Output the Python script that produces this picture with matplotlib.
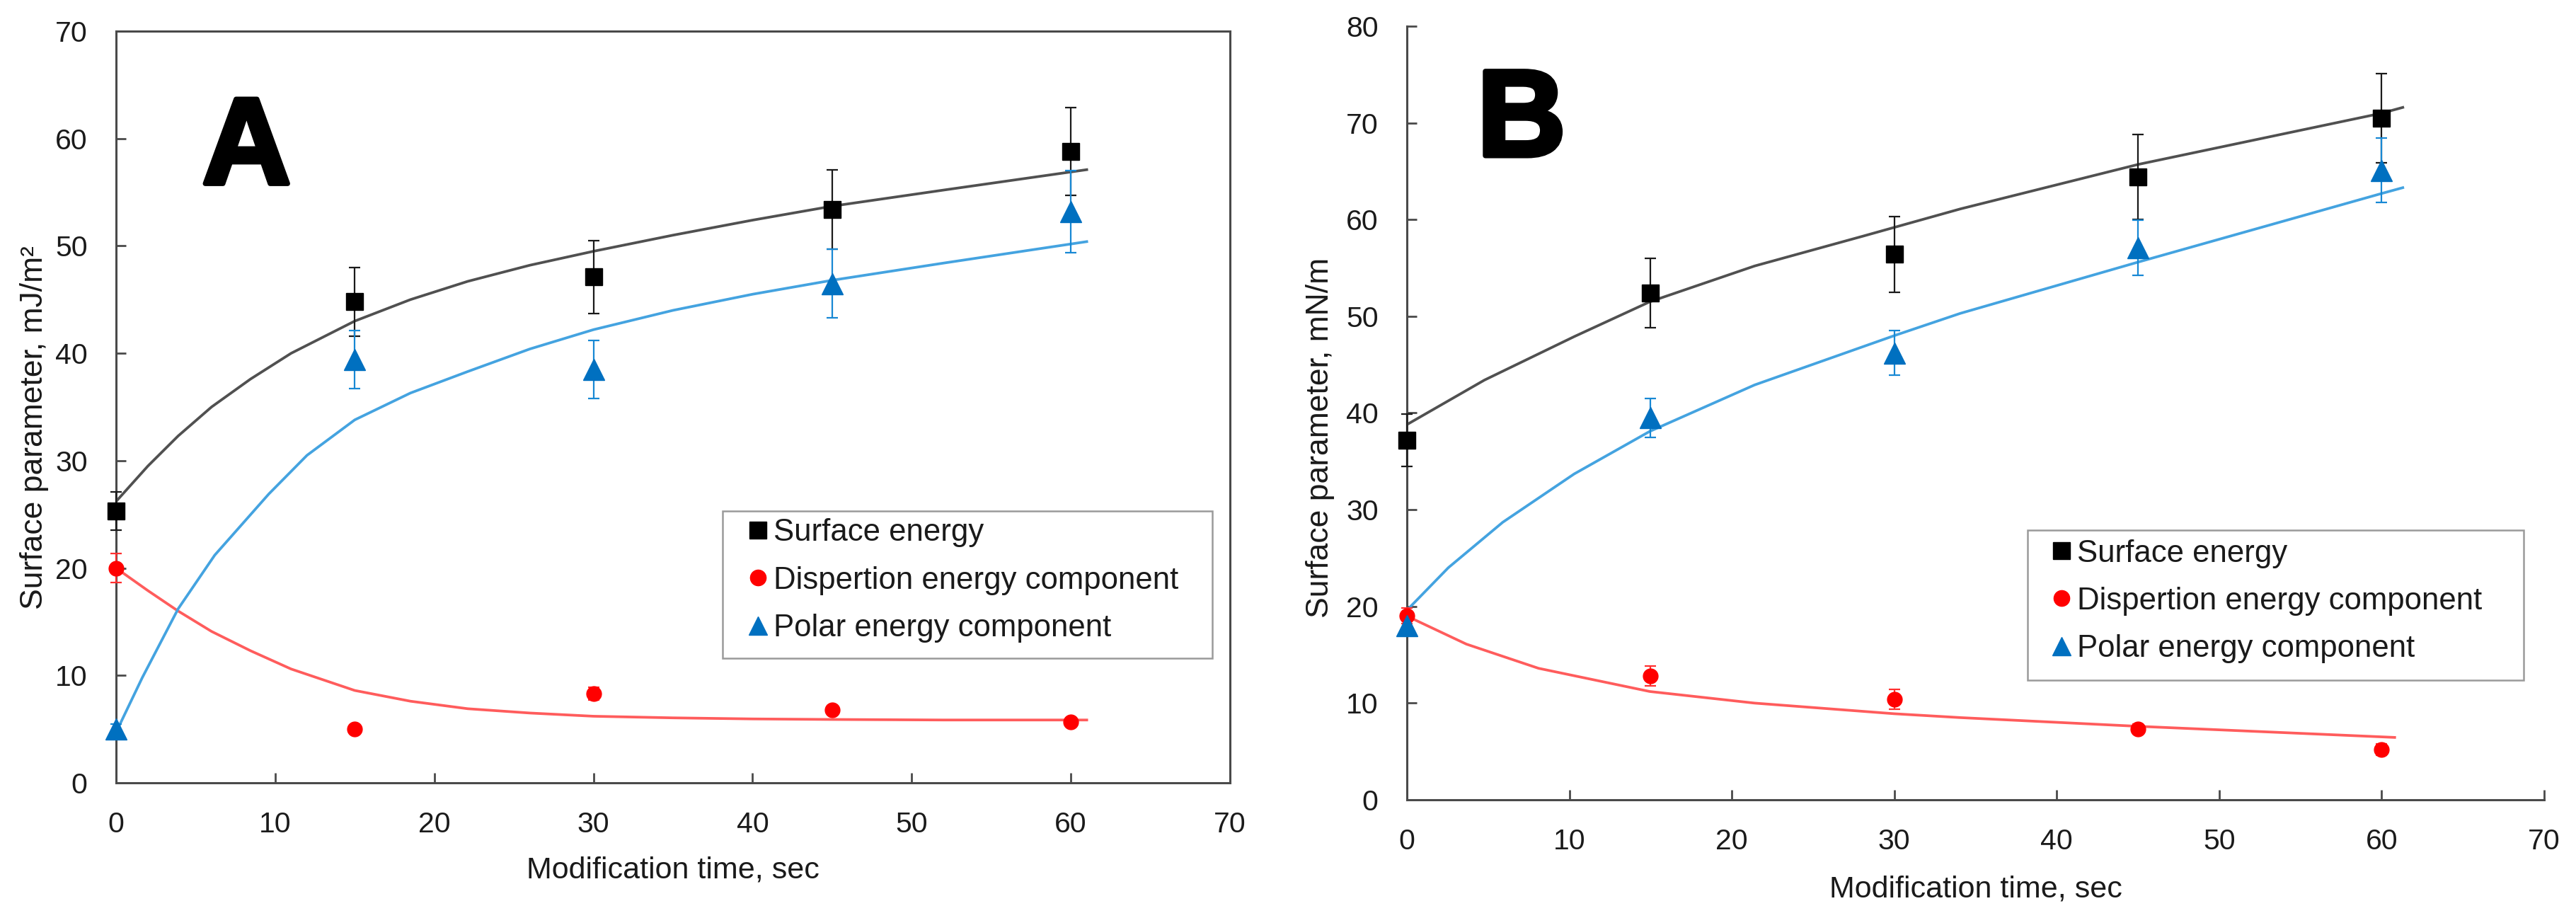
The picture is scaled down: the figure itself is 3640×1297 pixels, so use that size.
import matplotlib
matplotlib.use("Agg")
import matplotlib.pyplot as plt
import matplotlib.patheffects as pe
from matplotlib.lines import Line2D
from matplotlib.patches import Rectangle

plt.rcParams['font.family'] = ['Liberation Sans', 'DejaVu Sans']

time = [0, 15, 30, 45, 60]
labels = ["Surface energy", "Dispertion energy component", "Polar energy component"]

# panel A, mJ/m2
a_surface = [25.3, 44.8, 47.1, 53.4, 58.8]
a_surface_err = [1.8, 3.2, 3.4, 3.7, 4.1]
a_disp = [20.0, 5.0, 8.3, 6.8, 5.7]
a_disp_err = [1.35, 0.3, 0.6, 0.4, 0.3]
a_polar = [5.0, 39.4, 38.5, 46.5, 53.2]
a_polar_err = [0.5, 2.7, 2.7, 3.2, 3.8]

# panel B, mN/m
b_surface = [37.2, 52.4, 56.4, 64.4, 70.5]
b_surface_err = [2.7, 3.6, 3.9, 4.4, 4.6]
b_disp = [19.0, 12.8, 10.4, 7.3, 5.2]
b_disp_err = [0.8, 1.0, 1.0, 0.5, 0.6]
b_polar = [18.0, 39.5, 46.2, 57.1, 65.1]
b_polar_err = [0.5, 2.0, 2.3, 2.85, 3.3]

# trend lines
a_fit_x = [0, 2, 3.9, 6, 8.45, 11, 15, 18.5, 22.1, 26, 30, 35, 40, 45, 52, 61]
a_fit_surface = [26.2, 29.5, 32.3, 35.0, 37.6, 40.0, 43.0, 45.0, 46.7, 48.2, 49.5, 51.0, 52.4, 53.7, 55.2, 57.1]
a_fit_disp = [20.0, 17.9, 16.0, 14.1, 12.3, 10.6, 8.6, 7.6, 6.9, 6.5, 6.2, 6.05, 5.95, 5.9, 5.85, 5.85]
a_fit_polar_x = [0, 1.65, 3.9, 6.2, 9.6, 12, 15, 18.5, 22.1, 26, 30, 35, 40, 45, 52, 61]
a_fit_polar = [4.7, 9.8, 16.2, 21.2, 26.9, 30.5, 33.8, 36.3, 38.3, 40.4, 42.2, 44.0, 45.5, 46.8, 48.4, 50.4]

b_fit_surface_x = [0, 4.77, 10.3, 14.95, 21.4, 28.1, 34.06, 45, 60, 61.3]
b_fit_surface = [38.8, 43.4, 47.9, 51.5, 55.2, 58.3, 61.1, 65.7, 71.0, 71.6]
b_fit_polar_x = [0, 2.55, 5.9, 10.3, 14.95, 21.4, 30, 34.06, 45, 60, 61.3]
b_fit_polar = [19.6, 24.0, 28.7, 33.7, 38.1, 42.9, 48.0, 50.3, 55.6, 62.7, 63.3]
b_fit_disp_x = [0, 3.66, 8.1, 14.95, 21.4, 30, 34.06, 45, 60.8]
b_fit_disp = [19.0, 16.1, 13.6, 11.2, 10.0, 8.9, 8.5, 7.6, 6.45]

SPINE = '#4a4a4a'
TXT = '#1a1a1a'


def errs(ax, y, e, col):
    c = ax.errorbar(time, y, yerr=e, fmt='none', ecolor=col, elinewidth=1.6,
                    capsize=6, capthick=1.6, zorder=3)
    for a in list(c.lines[1]) + list(c.lines[2]):
        a.set_clip_on(False)


def panel(ax, ymax, surf, surf_e, disp, disp_e, polar, polar_e, fits, ylabel,
          letter, letter_xy, frame, anchor, box=True):
    for fx, fy, col in fits:
        ax.plot(fx, fy, color=col, lw=2.7, zorder=2, solid_joinstyle='round')

    errs(ax, surf, surf_e, '#1a1a1a')
    errs(ax, disp, disp_e, '#ff3030')
    errs(ax, polar, polar_e, '#1788d4')
    ax.plot(time, surf, ls='none', marker='s', ms=17, color='black', clip_on=False, zorder=4)
    ax.plot(time, disp, ls='none', marker='o', ms=15, color='#ff0000', clip_on=False, zorder=4)
    ax.plot(time, polar, ls='none', marker='^', ms=21, color='#0070c0', clip_on=False, zorder=4)

    ax.set_xlim(0, 70)
    ax.set_ylim(0, ymax)
    ax.set_xticks(range(0, 71, 10))
    ax.set_yticks(range(0, ymax + 1, 10))
    ax.tick_params(direction='in', length=10, width=2, colors=SPINE, labelcolor=TXT,
                   labelsize=29.5, pad=29)
    for s in ax.spines.values():
        s.set_color(SPINE)
        s.set_linewidth(2.2)
    if not box:
        ax.spines['top'].set_visible(False)
        ax.spines['right'].set_visible(False)

    ax.set_xlabel('Modification time, sec', fontsize=31, color=TXT)
    ax.xaxis.set_label_coords(0.5, -0.097)
    ax.set_ylabel(ylabel, fontsize=32, color=TXT)

    ax.text(letter_xy[0], letter_xy[1], letter, fontsize=125, fontweight='bold',
            ha='center', va='baseline', color='black',
            path_effects=[pe.withStroke(linewidth=5, foreground='black')])

    handles = [Line2D([], [], ls='none', marker='s', ms=17, color='black'),
               Line2D([], [], ls='none', marker='o', ms=16, color='#ff0000'),
               Line2D([], [], ls='none', marker='^', ms=19, color='#0070c0')]
    leg = ax.legend(handles, labels, loc='upper left', bbox_to_anchor=anchor,
                    bbox_transform=ax.transAxes, frameon=False, borderpad=0,
                    borderaxespad=0, handlelength=0.6, handletextpad=0.2,
                    labelspacing=0.6, fontsize=31.5)
    for t in leg.get_texts():
        t.set_color(TXT)
    x0, y0, x1, y1 = frame
    ax.add_patch(Rectangle((x0, y0), x1 - x0, y1 - y0, transform=ax.transAxes,
                           fill=False, ec='#9a9a9a', lw=1.8, zorder=5, clip_on=False))


fig = plt.figure(figsize=(36.41, 12.97), dpi=100)
axA = fig.add_axes([0.04504, 0.14726, 0.43230, 0.81881])
axB = fig.add_axes([0.54600, 0.12876, 0.44136, 0.84272])

panel(axA, 70, a_surface, a_surface_err, a_disp, a_disp_err, a_polar, a_polar_err,
      [(a_fit_x, a_fit_surface, '#505050'), (a_fit_x, a_fit_disp, '#ff5c5c'),
       (a_fit_polar_x, a_fit_polar, '#44a3e0')],
      'Surface parameter, mJ/m²', 'A', (8.2, 55.8),
      (0.5445, 0.1657, 0.9841, 0.3616), (0.568, 0.3517), box=True)
axA.yaxis.set_label_coords(-0.0604, 0.4727)

panel(axB, 80, b_surface, b_surface_err, b_disp, b_disp_err, b_polar, b_polar_err,
      [(b_fit_surface_x, b_fit_surface, '#505050'), (b_fit_disp_x, b_fit_disp, '#ff5c5c'),
       (b_fit_polar_x, b_fit_polar, '#44a3e0')],
      'Surface parameter, mN/m', 'B', (7.05, 66.6),
      (0.5457, 0.1542, 0.9820, 0.3486), (0.5675, 0.3371), box=False)
axB.yaxis.set_label_coords(-0.0635, 0.468)

fig.savefig('out.png', dpi=100)
